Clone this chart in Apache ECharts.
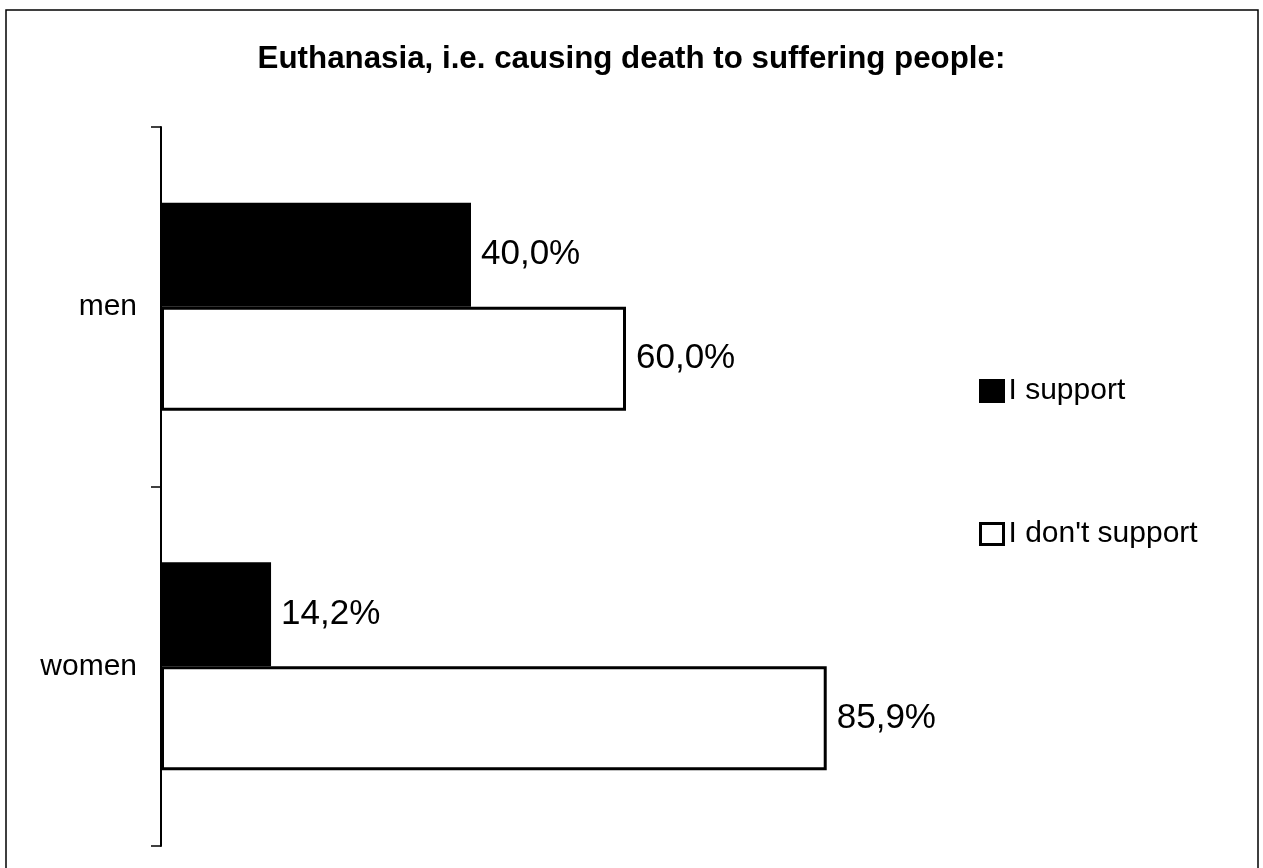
<!DOCTYPE html>
<html lang="en">
<head>
    <meta charset="UTF-8">
    <title>Euthanasia</title>
    <script src="https://cdn.jsdelivr.net/npm/echarts@6/dist/echarts.min.js"></script>
    <style>
        *{
            margin: 0;
            padding: 0;
        }
        .container{
            width: 1263px;
            height: 868px;
        }
    </style>
</head>
<body>
<div class="container"></div>
<script>
    let categories = ['men', 'women'];
    let supportValues = [40.0, 14.2];
    let notSupportValues = [60.0, 85.9];
    let seriesNames = ['I support', "I don't support"];

    let mycharts = echarts.init(document.querySelector('.container'));

    let fmt = p => p.value.toFixed(1).replace('.', ',') + '%';
    let font = 'Liberation Sans, Arial, sans-serif';

    let label = {
        show: true,
        position: 'right',
        distance: 10,
        formatter: fmt,
        color: '#000',
        fontSize: 35,
        fontFamily: font
    };

    let option = {
        backgroundColor: '#fff',
        animation: false,
        title: {
            text: 'Euthanasia, i.e. causing death to suffering people:',
            left: 'center',
            top: 39,
            textStyle: {
                color: '#000',
                fontSize: 31.3,
                fontWeight: 'bold',
                fontFamily: font
            }
        },
        graphic: [{
            type: 'rect',
            shape: {x: 6, y: 10, width: 1252, height: 900},
            style: {fill: null, stroke: '#000', lineWidth: 1.5}
        }],
        legend: {
            orient: 'vertical',
            left: 979,
            top: 376,
            padding: 0,
            itemGap: 113,
            itemWidth: 23,
            itemHeight: 21,
            itemStyle: {borderColor: '#000', borderWidth: 3},
            textStyle: {color: '#000', fontSize: 30, lineHeight: 30, fontFamily: font},
            data: seriesNames,
            icon: 'rect'
        },
        grid: {
            left: 161,
            top: 127,
            width: 775,
            height: 719
        },
        xAxis: {
            type: 'value',
            min: 0,
            max: 100,
            show: false
        },
        yAxis: {
            type: 'category',
            data: categories,
            inverse: true,
            axisLine: {show: true, lineStyle: {color: '#000', width: 2}},
            axisTick: {show: true, length: 10, lineStyle: {color: '#000', width: 1.5}},
            axisLabel: {
                color: '#000',
                fontSize: 30,
                fontFamily: font,
                margin: 24
            }
        },
        series: [{
            name: seriesNames[0],
            type: 'bar',
            data: supportValues,
            barWidth: 104,
            barGap: '0%',
            itemStyle: {color: '#000', borderColor: '#000', borderWidth: 3},
            label
        }, {
            name: seriesNames[1],
            type: 'bar',
            data: notSupportValues,
            barWidth: 104,
            itemStyle: {color: '#fff', borderColor: '#000', borderWidth: 3},
            label
        }]
    };

    mycharts.setOption(option);
</script>
</body>
</html>
